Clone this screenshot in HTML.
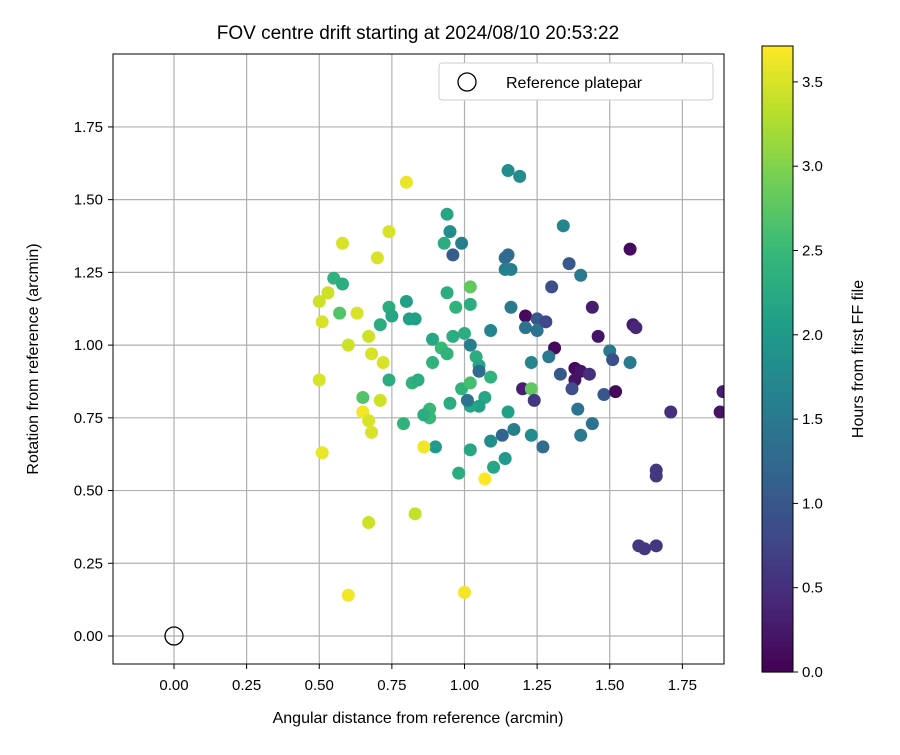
<!DOCTYPE html>
<html><head><meta charset="utf-8"><style>
body{margin:0;background:#fff;}
svg text{font-family:"Liberation Sans","DejaVu Sans",sans-serif;}
</style></head><body>
<svg id="chart" width="900" height="750" xmlns="http://www.w3.org/2000/svg">
<defs><clipPath id="pc"><rect x="113" y="54" width="611" height="610"/></clipPath></defs>
<rect width="900" height="750" fill="#fff"/>
<text x="418" y="39" font-size="19" text-anchor="middle">FOV centre drift starting at 2024/08/10 20:53:22</text>
<g id="grid"></g>
<g id="pts" clip-path="url(#pc)"></g>
<rect x="113" y="54" width="611" height="610" fill="none" stroke="#000" stroke-width="1"/>
<g id="ticks"></g>
<text x="418" y="723" font-size="16" text-anchor="middle">Angular distance from reference (arcmin)</text>
<text transform="translate(38,359) rotate(-90)" font-size="16" text-anchor="middle">Rotation from reference (arcmin)</text>
<g>
<rect x="439" y="63" width="274" height="37" rx="3" fill="#fff" stroke="#ccc"/>
<circle cx="467" cy="82" r="9" fill="none" stroke="#000" stroke-width="1.3"/>
<text x="506" y="88" font-size="16">Reference platepar</text>
</g>
<g id="cbar"></g>
<text transform="translate(863,359) rotate(-90)" font-size="16" text-anchor="middle">Hours from first FF file</text>
</svg>
<script>
const xs=[0.80,1.15,1.19,0.94,0.95,0.93,0.99,0.96,0.58,0.74,0.70,1.34,1.14,1.15,1.14,1.16,1.36,1.40,1.30,1.57,0.55,0.58,0.53,0.50,0.57,0.51,0.63,0.74,0.71,0.75,0.80,0.81,0.83,0.94,0.97,1.02,1.02,1.16,1.44,0.60,0.67,0.68,0.72,0.89,0.92,0.94,0.96,1.00,1.02,1.09,1.21,1.21,1.25,1.25,1.28,1.46,1.58,1.59,1.50,1.51,1.57,1.31,1.29,1.23,1.04,1.05,1.05,1.09,0.89,0.50,0.74,0.82,0.84,0.99,1.02,1.20,1.23,1.33,1.38,1.40,1.38,1.37,1.43,1.48,1.52,1.24,1.15,1.39,1.44,1.40,1.23,1.27,1.17,1.13,1.09,1.14,1.10,1.02,1.07,1.05,1.02,1.01,0.95,0.88,0.88,0.86,0.79,0.90,0.86,0.98,1.07,0.65,0.71,0.65,0.67,0.68,0.51,0.67,0.83,0.60,1.00,1.60,1.62,1.66,1.66,1.66,1.71,1.88,1.89];
const ys=[1.56,1.60,1.58,1.45,1.39,1.35,1.35,1.31,1.35,1.39,1.30,1.41,1.30,1.31,1.26,1.26,1.28,1.24,1.20,1.33,1.23,1.21,1.18,1.15,1.11,1.08,1.11,1.13,1.07,1.10,1.15,1.09,1.09,1.18,1.13,1.14,1.20,1.13,1.13,1.00,1.03,0.97,0.94,1.02,0.99,0.97,1.03,1.04,1.00,1.05,1.10,1.06,1.09,1.05,1.08,1.03,1.07,1.06,0.98,0.95,0.94,0.99,0.96,0.94,0.96,0.93,0.91,0.89,0.94,0.88,0.88,0.87,0.88,0.85,0.87,0.85,0.85,0.90,0.92,0.91,0.88,0.85,0.90,0.83,0.84,0.81,0.77,0.78,0.73,0.69,0.69,0.65,0.71,0.69,0.67,0.61,0.58,0.64,0.82,0.79,0.79,0.81,0.80,0.78,0.75,0.76,0.73,0.65,0.65,0.56,0.54,0.82,0.81,0.77,0.74,0.70,0.63,0.39,0.42,0.14,0.15,0.31,0.30,0.31,0.57,0.55,0.77,0.77,0.84];
const hours=[3.6,1.8,1.8,2.2,1.8,2.3,1.6,1.1,3.5,3.5,3.5,1.7,1.3,1.3,1.6,1.6,1.0,1.5,0.9,0.1,2.4,2.3,3.45,3.45,2.7,3.5,3.5,2.3,2.3,2.2,2.1,2.1,2.1,2.3,2.4,2.3,2.8,1.5,0.3,3.45,3.45,3.5,3.5,2.2,2.5,2.4,2.3,2.3,1.6,1.7,0.1,1.4,1.0,1.4,0.8,0.2,0.3,0.4,1.5,0.9,1.5,0.1,1.5,1.7,2.3,2.2,1.3,2.4,2.4,3.5,2.3,2.4,2.3,2.4,2.6,0.3,2.8,1.0,0.1,0.2,0.2,0.9,0.5,1.0,0.1,0.6,2.1,1.4,1.4,1.5,1.8,1.3,1.6,1.2,1.8,2.0,2.2,2.2,2.2,2.1,2.2,1.4,2.3,2.5,2.5,2.3,2.4,2.0,3.65,2.3,3.7,2.7,3.45,3.65,3.5,3.5,3.6,3.45,3.4,3.65,3.65,0.6,0.6,0.6,0.6,0.6,0.5,0.2,0.3];
const xTicks=[0,0.25,0.5,0.75,1,1.25,1.5,1.75];
const yTicks=[0,0.25,0.5,0.75,1,1.25,1.5,1.75];
const cTicks=[0,0.5,1,1.5,2,2.5,3,3.5];
const X=v=>174+v*290.5, Y=v=>636-v*290.9, C=v=>672-v*168.6;
const vir=[[68,1,84],[72,40,120],[62,74,137],[49,104,142],[38,130,142],[31,158,137],[53,183,121],[109,205,89],[180,222,44],[253,231,37]];
function cmap(t){t=Math.max(0,Math.min(1,t))*9;const i=Math.min(8,Math.floor(t)),f=t-i,a=vir[i],b=vir[i+1];return `rgb(${a.map((v,k)=>Math.round(v+(b[k]-v)*f)).join(',')})`;}
const NS="http://www.w3.org/2000/svg";
function mk(tag,at,par){const e=document.createElementNS(NS,tag);for(const k in at)e.setAttribute(k,at[k]);par.appendChild(e);return e;}
const grid=document.getElementById('grid'),ticks=document.getElementById('ticks'),pts=document.getElementById('pts'),cb=document.getElementById('cbar');
xTicks.forEach(v=>{const x=X(v);
const g=mk('line',{x1:x,x2:x,y1:54,y2:664,stroke:'#b0b0b0','stroke-width':1.2},grid);


mk('line',{x1:x,x2:x,y1:664,y2:669,stroke:'#000'},ticks);
const t=mk('text',{x:x,y:690,'font-size':15,'text-anchor':'middle'},ticks);t.textContent=v.toFixed(2);

});
yTicks.forEach(v=>{const y=Y(v);
const g=mk('line',{x1:113,x2:724,y1:y,y2:y,stroke:'#b0b0b0','stroke-width':1.2},grid);


mk('line',{x1:108,x2:113,y1:y,y2:y,stroke:'#000'},ticks);
const t=mk('text',{x:103,y:y+5,'font-size':15,'text-anchor':'end'},ticks);t.textContent=v.toFixed(2);

});
const ref=mk('circle',{cx:X(0),cy:Y(0),r:9,fill:'none',stroke:'#000','stroke-width':1.3},pts);


const hmax=3.713;
xs.forEach((x,i)=>{const c=mk('circle',{cx:X(x),cy:Y(ys[i]),r:6.5,fill:cmap(hours[i]/hmax)},pts);

});
for(let k=0;k<100;k++){const v0=k/100*hmax,v1=(k+1)/100*hmax;
mk('rect',{x:762,y:C(v1),width:31,height:C(v0)-C(v1)+0.6,fill:cmap((v0+v1)/2/hmax)},cb);}
mk('rect',{x:762,y:C(hmax),width:31,height:C(0)-C(hmax),fill:'none',stroke:'#000'},cb);
cTicks.forEach(v=>{const y=C(v);mk('line',{x1:793,x2:798,y1:y,y2:y,stroke:'#000'},cb);
const t=mk('text',{x:802,y:y+5,'font-size':15},cb);t.textContent=v.toFixed(1);

});
</script>
</body></html>
